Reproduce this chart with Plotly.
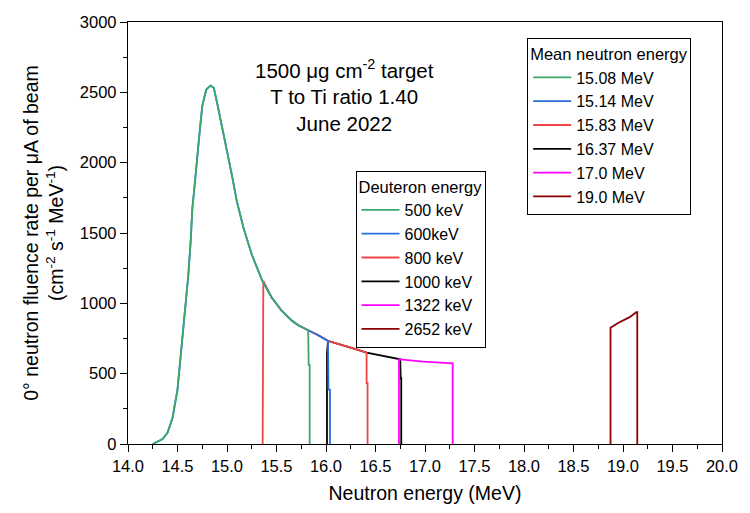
import plotly.graph_objects as go

# Main spectrum shape (neutron energy MeV, fluence rate)
E_main = [14.25, 14.30, 14.35, 14.40, 14.45, 14.50, 14.534, 14.567, 14.61, 14.634, 14.65, 14.667,
          14.684, 14.717, 14.75, 14.79, 14.834, 14.867, 14.90, 14.95, 15.00, 15.05, 15.10, 15.167,
          15.25, 15.357, 15.45, 15.55, 15.65, 15.72, 15.82, 15.92, 16.02, 16.18, 16.30, 16.41,
          16.58, 16.75, 16.98, 17.28]
F_main = [0, 15, 35, 82, 187, 387, 644, 902, 1207, 1453, 1676, 1793,
          1934, 2168, 2402, 2520, 2548, 2531, 2426, 2262, 2098, 1910, 1723, 1535,
          1347, 1160, 1043, 949, 879, 844, 809, 774, 733, 703, 675, 649,
          626, 602, 586, 574]

deuteron_labels = ["500 keV", "600keV", "800 keV", "1000 keV", "1322 keV", "2652 keV"]
mean_labels = ["15.08 MeV", "15.14 MeV", "15.83 MeV", "16.37 MeV", "17.0 MeV", "19.0 MeV"]
colors = ["#3aa96a", "#2a6fd6", "#f04545", "#000000", "#ff00ff", "#8b0000"]

# Series edges (start/end of each spectrum) and edge values
ranges = [(14.25, 15.82), (14.25, 16.02), (15.45, 16.41), (16.18, 16.75), (16.75, 17.28), None]
lead_E = [[], [], [15.36, 15.36, 15.367, 15.367], [16.01, 16.01, 16.02], [16.737, 16.737], []]
lead_F = [[], [], [0, 1066, 1066, 1160], [0, 644, 733], [0, 602], []]
tail_E = [[15.825, 15.835, 15.835], [16.025, 16.04, 16.04], [16.41, 16.42, 16.42],
          [16.755, 16.76, 16.76], [17.28], []]
tail_F = [[562, 562, 0], [387, 387, 0], [433, 433, 0], [468, 468, 0], [0], []]

# 2652 keV spectrum
E_2652 = [18.874, 18.874, 18.95, 19.01, 19.067, 19.134, 19.144, 19.144]
F_2652 = [0, 827, 860, 879, 902, 937, 937, 0]

fig = go.Figure()
draw_order = [3, 2, 1, 0, 4, 5]
for i in draw_order:
    if ranges[i] is None:
        xs, ys = E_2652, F_2652
    else:
        lo, hi = ranges[i]
        sel = [(e, f) for e, f in zip(E_main, F_main) if lo <= e <= hi]
        xs = lead_E[i] + [s[0] for s in sel] + tail_E[i]
        ys = lead_F[i] + [s[1] for s in sel] + tail_F[i]
    fig.add_trace(go.Scatter(x=xs, y=ys, mode="lines", name=deuteron_labels[i],
                             line=dict(color=colors[i], width=1.8),
                             legend="legend", legendrank=i + 1))
for i in range(6):
    fig.add_trace(go.Scatter(x=[None], y=[None], mode="lines", name=mean_labels[i],
                             line=dict(color=colors[i], width=1.8),
                             legend="legend2", legendrank=i + 1))

FONT = "Liberation Sans"
fig.add_annotation(text="1500 \u03bcg cm<sup>-2</sup> target<br>T to Ti ratio 1.40<br>June 2022",
                   x=0.365, y=0.925, xref="paper", yref="paper", xanchor="center", yanchor="top",
                   showarrow=False, font=dict(size=20.5, color="black", family=FONT))

legend_common = dict(bgcolor="white", bordercolor="black", borderwidth=1,
                     font=dict(size=16, color="black", family=FONT),
                     xanchor="left", yanchor="top", tracegroupgap=0, itemwidth=38)
fig.update_layout(
    width=750, height=513,
    margin=dict(l=128, r=21, t=22, b=65),
    paper_bgcolor="white", plot_bgcolor="white",
    font=dict(family=FONT, color="black"),
    legend=dict(x=0.383, y=0.648, title=dict(text="Deuteron energy",
                font=dict(size=16.5, family=FONT)), **legend_common),
    legend2=dict(x=0.672, y=0.962, title=dict(text="Mean neutron energy",
                 font=dict(size=16.5, family=FONT)), **legend_common),
    xaxis=dict(range=[14, 20], dtick=0.5, tick0=14, tickformat=".1f",
               showline=True, linecolor="black", linewidth=1.3, mirror=True,
               ticks="outside", ticklen=7, tickwidth=1.3, tickcolor="black",
               minor=dict(dtick=0.25, ticks="outside", ticklen=4, tickwidth=1.2, tickcolor="black"),
               showgrid=False, zeroline=False,
               tickfont=dict(size=16.5, family=FONT),
               title=dict(text="Neutron energy (MeV)", font=dict(size=19.5, family=FONT), standoff=12)),
    yaxis=dict(range=[0, 3000], dtick=500,
               showline=True, linecolor="black", linewidth=1.3, mirror=True,
               ticks="outside", ticklen=7, tickwidth=1.3, tickcolor="black",
               minor=dict(dtick=250, ticks="outside", ticklen=4, tickwidth=1.2, tickcolor="black"),
               showgrid=False, zeroline=False,
               tickfont=dict(size=16.5, family=FONT),
               title=dict(text="0\u00b0 neutron fluence rate per \u03bcA of beam<br>(cm<sup>-2</sup> s<sup>-1</sup> MeV<sup>-1</sup>)",
                          font=dict(size=19.5, family=FONT), standoff=10)),
    showlegend=True,
)

fig.write_html("out.html")
